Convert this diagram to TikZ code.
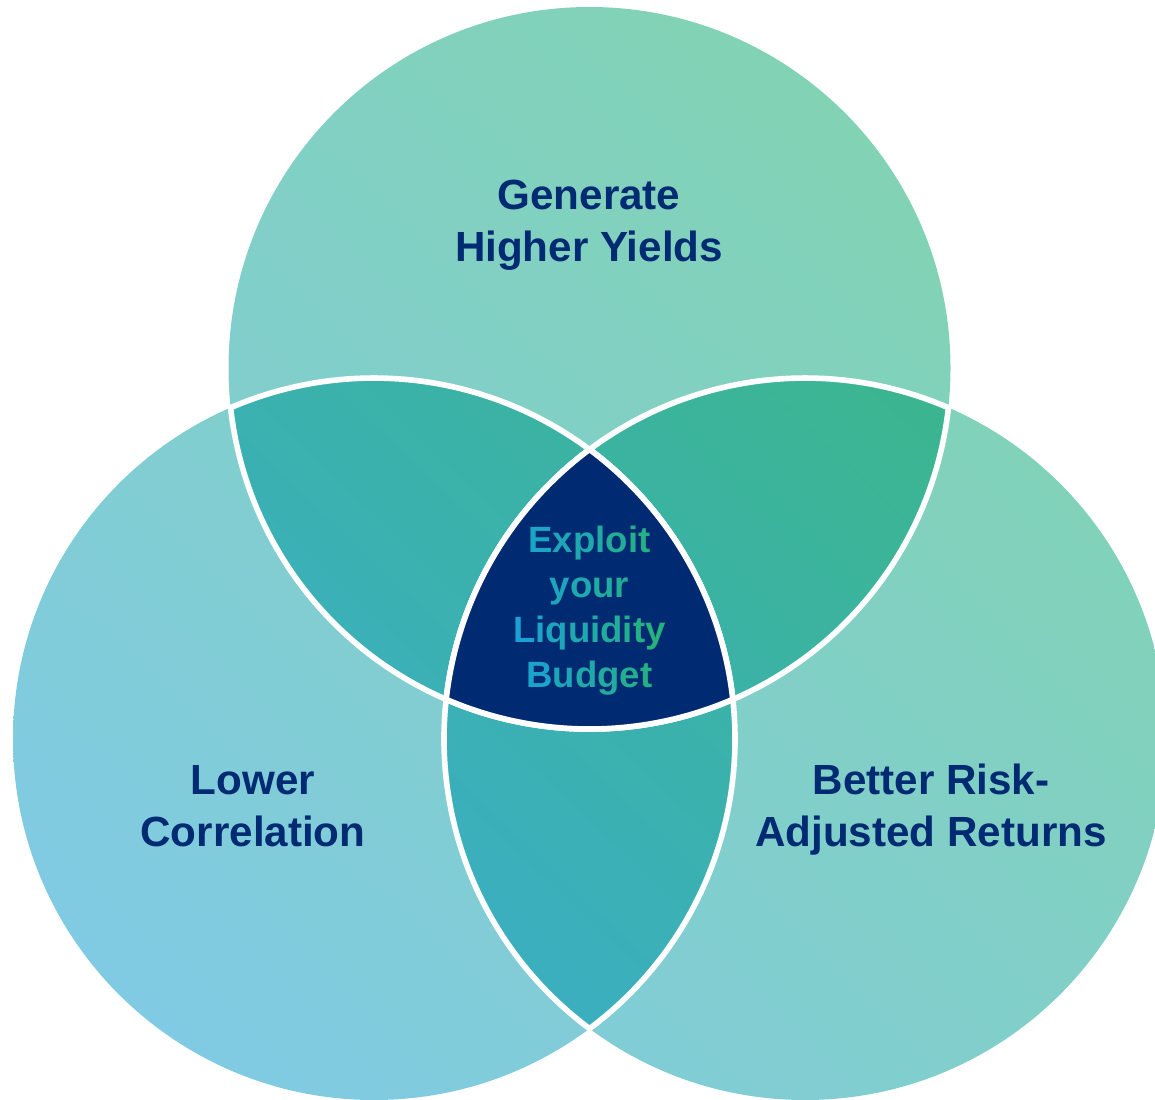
\documentclass[tikz,border=0pt]{standalone}
\usepackage{fontspec}
\setmainfont{Liberation Sans}
\usetikzlibrary{shadings}

\definecolor{navy}{RGB}{0,43,115}
\definecolor{paleblue}{RGB}{128,201,234}
\definecolor{palemid}{RGB}{129,207,200}
\definecolor{palegreen}{RGB}{130,213,168}
\definecolor{deepblue}{RGB}{58,170,222}
\definecolor{deepmid}{RGB}{59,178,168}
\definecolor{deepgreen}{RGB}{60,186,112}
\definecolor{textblue}{RGB}{24,160,218}
\definecolor{textgreen}{RGB}{40,178,118}

% one letter of the centre text, #1 = share of green
\newcommand{\gl}[2]{\textcolor{textgreen!#1!textblue}{#2}}

\begin{document}
\begin{tikzpicture}[line cap=round,line join=round,
  pale/.style={lower left=paleblue,upper right=palegreen,upper left=palemid,lower right=palemid},
  deep/.style={lower left=deepblue,upper right=deepgreen,upper left=deepmid,lower right=deepmid},
  rim/.style={draw=white,line width=1.6pt},
  aim/.style={text=navy,font=\bfseries\fontsize{12}{14.8}\selectfont,align=center}]
  \useasboundingbox (0,0) rectangle (11.55,10.99);
  \clip (0,0) rectangle (11.55,10.99);

  % the three circles share one shading
  \begin{scope}
    \clip (5.895,7.31) circle (3.61) (3.74,3.60) circle (3.61) (8.05,3.60) circle (3.61);
    \shade[pale] (0,0) rectangle (11.55,10.99);
  \end{scope}

  % pairwise overlaps
  \path[save path=\lensTL] (2.306,6.913)
    arc[start angle=113.39,end angle=6.31,radius=3.61]
    arc[start angle=-66.61,end angle=-173.69,radius=3.61] -- cycle;
  \path[save path=\lensTR] (9.484,6.913)
    arc[start angle=66.61,end angle=173.69,radius=3.61]
    arc[start angle=-113.39,end angle=-6.31,radius=3.61] -- cycle;
  \path[save path=\lensLR] (5.895,6.496)
    arc[start angle=53.35,end angle=-53.35,radius=3.61]
    arc[start angle=233.35,end angle=126.65,radius=3.61] -- cycle;
  \foreach \lens in {\lensTL,\lensTR,\lensLR}{
    \begin{scope}
      \clip[use path=\lens];
      \shade[deep] (0,0) rectangle (11.55,10.99);
    \end{scope}
  }
  \foreach \lens in {\lensTL,\lensTR,\lensLR}
    \draw[rim,use path=\lens];

  % middle where all three meet
  \filldraw[rim,fill=navy] (5.895,6.496)
    arc[start angle=126.65,end angle=173.69,radius=3.61]
    arc[start angle=-113.39,end angle=-66.61,radius=3.61]
    arc[start angle=6.31,end angle=53.35,radius=3.61] -- cycle;

  \node[aim] (yields) at (5.89,8.74) {Generate\\Higher Yields};
  \node[aim] (correlation) at (2.53,2.93) {Lower\\Correlation};
  \node[aim] (returns) at (9.31,2.89) {Better Risk-\\Adjusted Returns};
  \node[align=center,font=\bfseries\fontsize{10.4}{12.8}\selectfont] (budget) at (5.895,4.885)
    {\gl{20}{E}\gl{35}{x}\gl{45}{p}\gl{55}{l}\gl{70}{o}\gl{80}{i}\gl{85}{t}\\
     \gl{30}{y}\gl{45}{o}\gl{60}{u}\gl{70}{r}\\
     \gl{5}{L}\gl{20}{i}\gl{30}{q}\gl{45}{u}\gl{55}{i}\gl{65}{d}\gl{75}{i}\gl{85}{t}\gl{95}{y}\\
     \gl{15}{B}\gl{35}{u}\gl{50}{d}\gl{60}{g}\gl{75}{e}\gl{85}{t}};
\end{tikzpicture}
\end{document}
